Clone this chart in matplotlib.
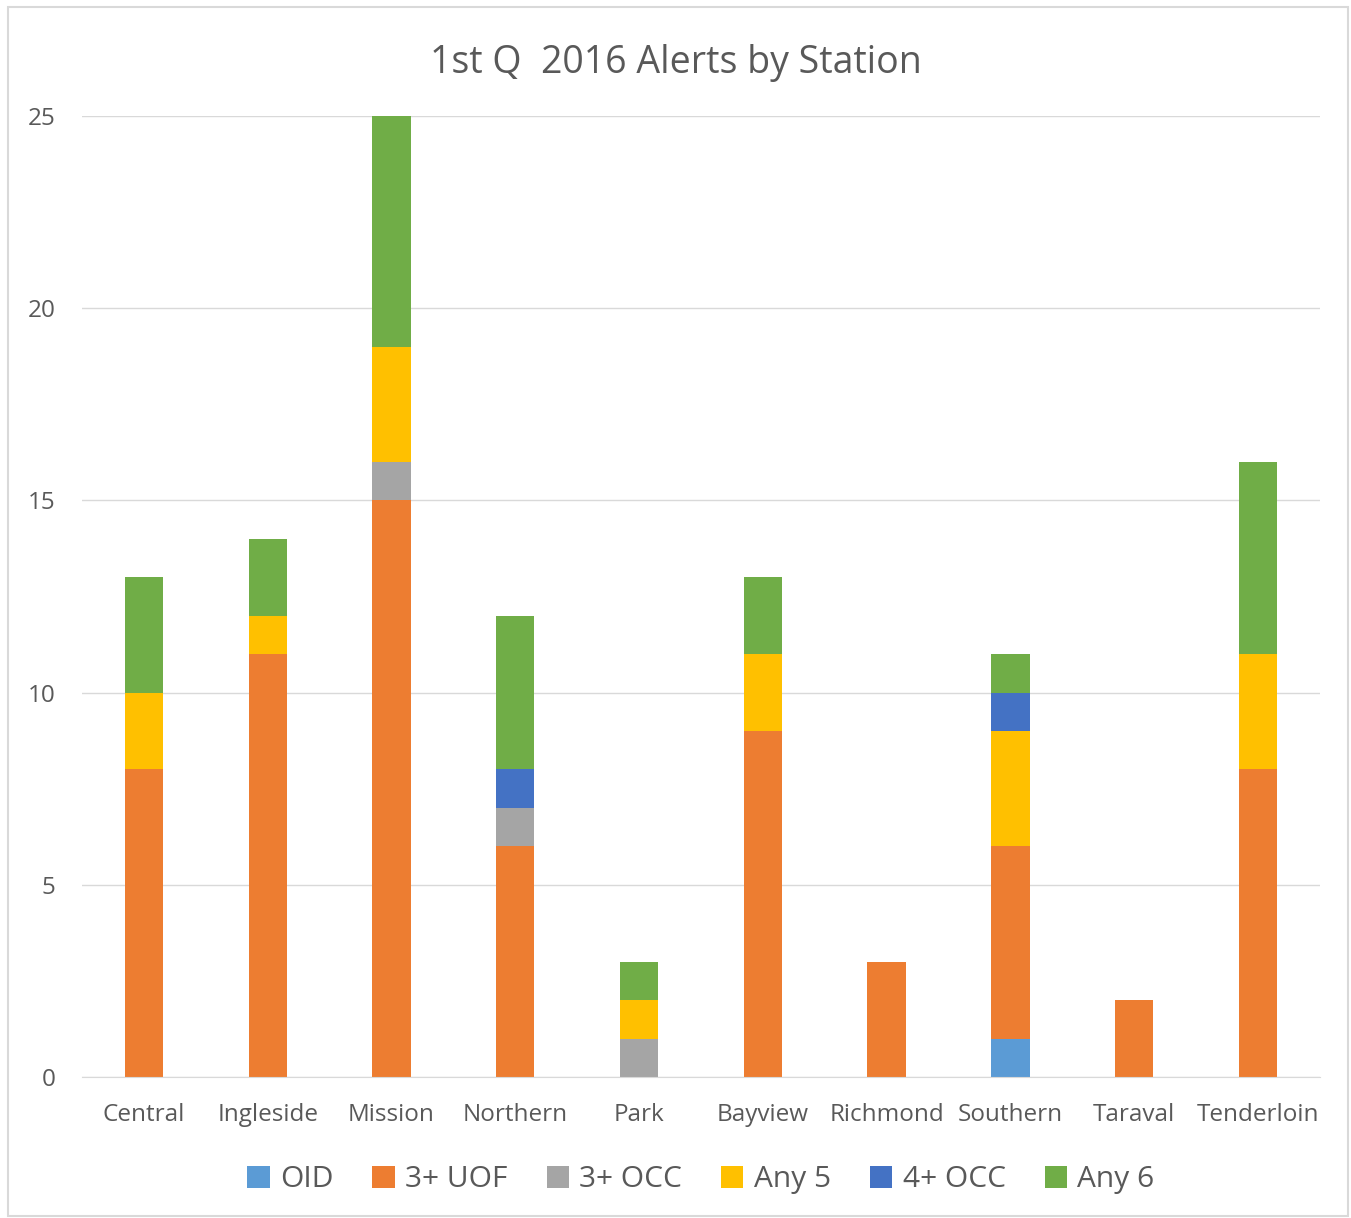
import matplotlib.pyplot as plt
import numpy as np
from matplotlib.patches import Rectangle

#chart data
stations = ['Central', 'Ingleside', 'Mission', 'Northern', 'Park',
            'Bayview', 'Richmond', 'Southern', 'Taraval', 'Tenderloin']
oid = [0, 0, 0, 0, 0, 0, 0, 1, 0, 0]
uof = [8, 11, 15, 6, 0, 9, 3, 5, 2, 8]
occ3 = [0, 0, 1, 1, 1, 0, 0, 0, 0, 0]
any5 = [2, 1, 3, 0, 1, 2, 0, 3, 0, 3]
occ4 = [0, 0, 0, 1, 0, 0, 0, 1, 0, 0]
any6 = [3, 2, 6, 4, 1, 2, 0, 1, 0, 5]

series = [('OID', oid, '#5B9BD5'),
          ('3+ UOF', uof, '#ED7D31'),
          ('3+ OCC', occ3, '#A5A5A5'),
          ('Any 5', any5, '#FFC000'),
          ('4+ OCC', occ4, '#4472C4'),
          ('Any 6', any6, '#70AD47')]

plt.rcParams['font.family'] = ['Open Sans', 'DejaVu Sans']
TXT = '#595959'

fig = plt.figure(figsize=(13.51, 12.18), dpi=100)
ax = fig.add_axes([0.0607, 0.1158, 0.9163, 0.789])

#figure border
fig.patches.append(Rectangle((0.006, 0.002), 0.992, 0.992, transform=fig.transFigure,
                             fill=False, edgecolor='#D9D9D9', linewidth=1.5))

x = np.arange(len(stations))
bottom = np.zeros(len(stations))
for name, vals, color in series:
    vals = np.array(vals)
    ax.bar(x, vals, 0.31, bottom=bottom, color=color, label=name)
    bottom += vals

ax.set_xlim(-0.5, len(stations) - 0.5)
ax.set_ylim(0, 25)
ax.set_yticks(range(0, 26, 5))
ax.set_xticks(x)
ax.set_xticklabels(stations)
ax.yaxis.grid(True, color='#D9D9D9', linewidth=1)
ax.set_axisbelow(True)
for s in ['top', 'right', 'left']:
    ax.spines[s].set_visible(False)
ax.spines['bottom'].set_color('#D9D9D9')
ax.tick_params(axis='both', length=0, labelsize=17.5, colors=TXT)
ax.tick_params(axis='y', pad=19)
ax.tick_params(axis='x', pad=19)

fig.suptitle('1st Q  2016 Alerts by Station', y=0.964, fontsize=27, color=TXT)

ax.legend(loc='upper center', bbox_to_anchor=(0.5, -0.064), ncol=6, frameon=False,
          fontsize=21.5, labelcolor=TXT, handlelength=0.75, handleheight=0.75,
          handletextpad=0.35, columnspacing=1.3)

fig.savefig('out.png', dpi=100)
